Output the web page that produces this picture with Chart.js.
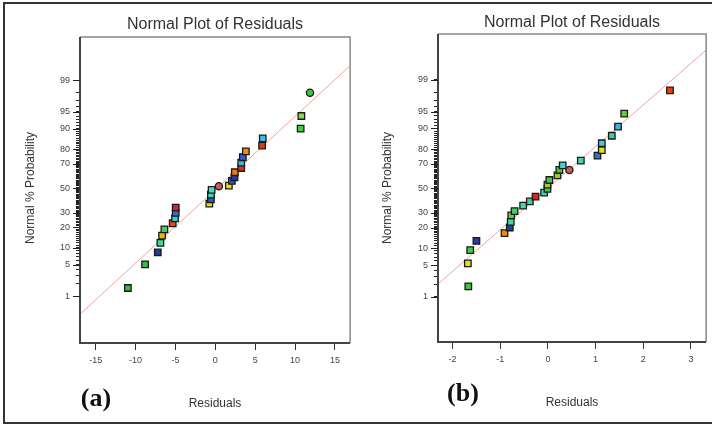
<!DOCTYPE html>
<html><head><meta charset="utf-8">
<script src="https://cdn.jsdelivr.net/npm/chart.js@4/dist/chart.umd.min.js"></script>
<style>
html,body{margin:0;padding:0;background:#fff;}
#wrap{position:relative;width:712px;height:425px;overflow:hidden;font-family:"Liberation Sans",Arial,sans-serif;background:#fff;}
.frame{position:absolute;left:3px;top:2px;width:760px;height:418px;border:2px solid #333;}
canvas{position:absolute;top:0;}
.t{position:absolute;white-space:nowrap;color:#333;transform:translate(-50%,-50%);line-height:1;}
.main{font-size:16px;}
.ax{font-size:12px;}
.rot{transform:translate(-50%,-50%) rotate(-90deg);}
.lab{font-family:"Liberation Serif","Times New Roman",serif;font-weight:bold;font-size:26px;color:#111;}
</style>
</head><body>
<div id="wrap">
  <div class="frame"></div>
  <canvas id="ca" width="356" height="425" style="left:0"></canvas>
  <canvas id="cb" width="356" height="425" style="left:356px"></canvas>
  <div class="t main" style="left:215px;top:24px">Normal Plot of Residuals</div>
  <div class="t main" style="left:572px;top:22px">Normal Plot of Residuals</div>
  <div class="t ax rot" style="left:30px;top:188px">Normal % Probability</div>
  <div class="t ax rot" style="left:387px;top:188px">Normal % Probability</div>
  <div class="t ax" style="left:215px;top:403px">Residuals</div>
  <div class="t ax" style="left:572px;top:402px">Residuals</div>
  <div class="t lab" style="left:96px;top:398px">(a)</div>
  <div class="t lab" style="left:463px;top:393px">(b)</div>
</div>
<script>
// ---- data ----
const residualsA = [-10.96,-8.8,-7.21,-6.88,-6.67,-6.38,-5.34,-5.05,-4.96,-4.96,-0.75,-0.55,-0.55,-0.46,0.45,1.7,2.08,2.41,2.45,3.25,3.25,3.45,3.83,5.87,5.95,10.7,10.79,11.87];
const percentA   = [1.6,5.1,8.4,12.0,15.4,18.9,22.6,25.9,29.8,33.9,37.1,40.6,44.6,48.6,51.7,52.3,56.3,59.4,63.5,66.9,70.9,74.8,78.7,82.1,85.9,90.0,94.0,98.0];
const colorsA = ['#33bb44','#33bb44','#2b3a8f','#3ed8a0','#f0b800','#44cc66','#ee4411','#33ccdd','#2f6fd0','#e02020','#e8e010','#2f55c0','#3fd6b0','#40e0c8','#c85a5a','#f0e000','#3355cc','#2a3a99','#f07a10','#e03010','#33bbe0','#3060c8','#f08a10','#e03a10','#44b8e8','#44cc44','#88dd44','#44c044'];
const stylesA = residualsA.map((_, i) => (i === 14 || i === 27) ? 'circle' : 'rect');

const residualsB = [-1.67,-1.68,-1.63,-1.50,-0.91,-0.80,-0.78,-0.77,-0.70,-0.52,-0.38,-0.26,-0.08,-0.01,-0.01,0.03,0.20,0.24,0.31,0.45,0.69,1.04,1.13,1.13,1.34,1.47,1.60,2.56];
const percentB   = [1.8,5.4,9.3,13.0,16.9,20.1,23.7,28.1,31.3,35.5,39.0,42.9,46.3,49.6,53.1,57.1,61.0,65.3,68.9,65.3,72.3,75.8,79.4,83.3,87.0,90.7,94.5,98.2];
const colorsB = ['#44c044','#e0e020','#44c844','#2a3a99','#f08a10','#2a3aa0','#40d8a0','#66cc33','#44cc66','#44d8b0','#40d0a0','#e02020','#44d8b0','#44c844','#a0d020','#44cc44','#a0c820','#44c844','#44d0d0','#c85a5a','#44d8a8','#3070c8','#e8e010','#44c8e0','#40d0a0','#40b0e8','#66cc33','#e84010'];
const stylesB = residualsB.map((_, i) => (i === 19) ? 'circle' : 'rect');

// fitted normal line endpoints [residual, % probability]
const fitXA = [-17, 17];
const fitPA = [0.33, 99.6];
const fitXB = [-2.35, 3.35];
const fitPB = [1.84, 99.86];

// tick labels
const xTicksA = [-15,-10,-5,0,5,10,15];
const xTicksB = [-2,-1,0,1,2,3];
const yLabels = [1,5,10,20,30,50,70,80,90,95,99];
const yMinor  = Array.from({length:99}, (_, i) => i + 1);

// inverse standard normal CDF (Acklam)
function probit(p){
  const a=[-3.969683028665376e+01,2.209460984245205e+02,-2.759285104469687e+02,1.383577518672690e+02,-3.066479806614716e+01,2.506628277459239e+00];
  const b=[-5.447609879822406e+01,1.615858368580409e+02,-1.556989798598866e+02,6.680131188771972e+01,-1.328068155288572e+01];
  const c=[-7.784894002430293e-03,-3.223964580411365e-01,-2.400758277161838e+00,-2.549732539343734e+00,4.374664141464968e+00,2.938163982698783e+00];
  const d=[7.784695709041462e-03,3.224671290700398e-01,2.445134137142996e+00,3.754408661907416e+00];
  const pl=0.02425, ph=1-pl; let q,r;
  if(p<pl){q=Math.sqrt(-2*Math.log(p));return (((((c[0]*q+c[1])*q+c[2])*q+c[3])*q+c[4])*q+c[5])/((((d[0]*q+d[1])*q+d[2])*q+d[3])*q+1);}
  if(p<=ph){q=p-0.5;r=q*q;return (((((a[0]*r+a[1])*r+a[2])*r+a[3])*r+a[4])*r+a[5])*q/(((((b[0]*r+b[1])*r+b[2])*r+b[3])*r+b[4])*r+1);}
  q=Math.sqrt(-2*Math.log(1-p));return -(((((c[0]*q+c[1])*q+c[2])*q+c[3])*q+c[4])*q+c[5])/((((d[0]*q+d[1])*q+d[2])*q+d[3])*q+1);
}

const FONT = '"Liberation Sans", Arial, sans-serif';

const framePlugin = {
  id: 'framePlugin',
  afterDraw(chart){
    const {ctx, chartArea: ca, scales: {y}} = chart;
    ctx.save();
    ctx.strokeStyle = '#888'; ctx.lineWidth = 1.5;
    ctx.beginPath(); ctx.moveTo(ca.left, ca.top); ctx.lineTo(ca.right, ca.top); ctx.lineTo(ca.right, ca.bottom); ctx.stroke();
    ctx.strokeStyle = '#444'; ctx.lineWidth = 2;
    ctx.beginPath(); ctx.moveTo(ca.left, ca.top); ctx.lineTo(ca.left, ca.bottom); ctx.lineTo(ca.right, ca.bottom); ctx.stroke();
    ctx.strokeStyle = '#222'; ctx.lineWidth = 1;
    yLabels.forEach(p => {
      const py = Math.round(y.getPixelForValue(probit(p/100))) + 0.5;
      ctx.beginPath(); ctx.moveTo(ca.left - 7, py); ctx.lineTo(ca.left, py); ctx.stroke();
    });
    ctx.restore();
  }
};

function makeChart(id, o){
  return new Chart(document.getElementById(id), {
    data: {
      datasets: [
        {
          type: 'scatter',
          data: o.res.map((r, i) => ({x: r, y: probit(o.pct[i]/100)})),
          backgroundColor: o.colors,
          borderColor: '#1a1a1a',
          borderWidth: 1.3,
          pointStyle: o.styles,
          pointRadius: o.styles.map(s => s === 'circle' ? 3.6 : 4.6),
          order: 1
        },
        {
          type: 'line',
          data: o.fitX.map((v, i) => ({x: v, y: probit(o.fitP[i]/100)})),
          borderColor: '#f3a0a0',
          borderWidth: 1,
          pointRadius: 0,
          fill: false,
          order: 2
        }
      ]
    },
    options: {
      responsive: false,
      animation: false,
      devicePixelRatio: 1,
      layout: {padding: o.pad},
      plugins: {legend: {display: false}, tooltip: {enabled: false}, title: {display: false}},
      scales: {
        x: {
          type: 'linear', min: o.xMin, max: o.xMax,
          afterBuildTicks: s => { s.ticks = o.xTicks.map(v => ({value: v})); },
          afterFit: s => { s.height = o.xH; },
          border: {display: false},
          grid: {drawOnChartArea: false, drawTicks: true, tickLength: 7, tickColor: '#333', tickWidth: 1},
          ticks: {autoSkip: false, maxRotation: 0, padding: 5, color: '#444', font: {family: FONT, size: 9}}
        },
        y: {
          type: 'linear', min: o.yMin, max: o.yMax,
          afterBuildTicks: s => { s.ticks = yMinor.map(p => ({value: probit(p/100)})); },
          afterFit: s => { s.width = o.yW; },
          border: {display: false},
          grid: {drawOnChartArea: false, drawTicks: true, tickLength: 4, tickColor: '#222', tickWidth: 1},
          ticks: {
            autoSkip: false, padding: 6, color: '#444', font: {family: FONT, size: 9},
            callback: (v, i) => yLabels.includes(yMinor[i]) ? String(yMinor[i]) : ''
          }
        }
      }
    },
    plugins: [framePlugin]
  });
}

makeChart('ca', {
  res: residualsA, pct: percentA, colors: colorsA, styles: stylesA,
  fitX: fitXA, fitP: fitPA, xTicks: xTicksA,
  xMin: -16.96, xMax: 16.9, yMin: -3.327, yMax: 3.254,
  pad: {left: 0, right: 5, top: 37, bottom: 0}, yW: 80, xH: 82
});
makeChart('cb', {
  res: residualsB, pct: percentB, colors: colorsB, styles: stylesB,
  fitX: fitXB, fitP: fitPB, xTicks: xTicksB,
  xMin: -2.306, xMax: 3.318, yMin: -3.29, yMax: 3.305,
  pad: {left: 0, right: 4, top: 34, bottom: 0}, yW: 82, xH: 83
});
</script>
</body></html>
